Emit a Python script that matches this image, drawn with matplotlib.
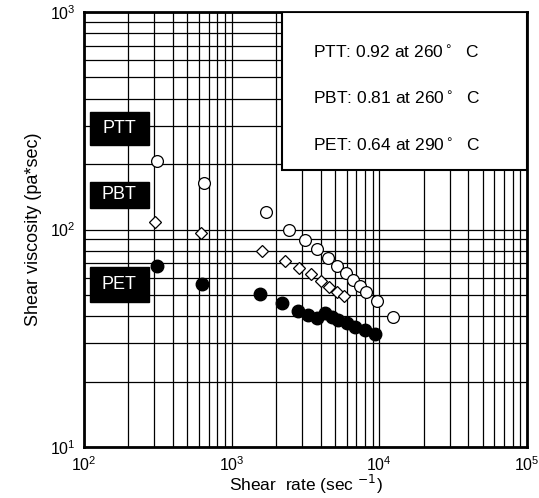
import numpy as np
import matplotlib
matplotlib.use("Agg")
import matplotlib.pyplot as plt
import matplotlib.transforms as mtransforms

# values (shear rate in 1/s, viscosity in Pa*s)
ptt_rate = [313, 649, 1708, 2443, 3135, 3763, 4508, 5188, 5913, 6658, 7390, 8115, 9590, 12420]
ptt_visc = [206, 164, 120, 99, 89.5, 81, 73.7, 68, 62.9, 58.6, 55, 51.8, 46.9, 39.5]

pbt_rate = [302, 617, 1604, 2296, 2869, 3427, 4005, 4579, 5188, 5786]
pbt_visc = [108.6, 96.7, 79.9, 71.9, 66.3, 62.2, 58.2, 54.6, 51.8, 49.5]

pet_rate = [313, 626, 1562, 2181, 2825, 3300, 3763, 4282, 4753, 5268, 6005, 6834, 7990, 9400]
pet_visc = [68, 56, 50.5, 45.8, 42.2, 40.4, 39.1, 41.2, 39.7, 38.4, 37.1, 35.7, 34.5, 33.0]

names = ["PTT", "PBT", "PET"]
iv_text = ["PTT: 0.92 at 260$^\\circ$  C",
           "PBT: 0.81 at 260$^\\circ$  C",
           "PET: 0.64 at 290$^\\circ$  C"]

plt.rcParams['font.family'] = ['Liberation Sans', 'DejaVu Sans']

fig = plt.figure(figsize=(5.39, 4.98), dpi=100)
ax = fig.add_axes([0.1558, 0.1024, 0.8219, 0.8735])
ax.set_xscale('log')
ax.set_yscale('log')
ax.set_xlim(1e2, 1e5)
ax.set_ylim(1e1, 1e3)

ax.grid(True, which='both', color='black', lw=0.9)
ax.set_axisbelow(True)
ax.tick_params(which='both', length=0, labelsize=11.5, pad=6)
for s in ax.spines.values():
    s.set_linewidth(2)

ax.plot(ptt_rate, ptt_visc, 'o', ms=8.5, mfc='white', mec='black', mew=0.9, zorder=4)
ax.plot(pbt_rate, pbt_visc, 'D', ms=6.5, mfc='white', mec='black', mew=0.9, zorder=4)
ax.plot(pet_rate, pet_visc, 'o', ms=9, mfc='black', mec='black', zorder=4)

# black name tags on the left (x in axes fraction, y in data units)
trans = mtransforms.blended_transform_factory(ax.transAxes, ax.transData)
tag_spans = [(245, 347), (125.6, 165.4), (46.4, 67.2)]
for n, (lo, hi) in zip(names, tag_spans):
    ax.add_patch(plt.Rectangle((0.0135, lo), 0.133, hi - lo, transform=trans,
                               fc='black', ec='black', zorder=5))
    ax.text(0.08, np.sqrt(lo * hi), n, transform=trans, ha='center', va='center',
            color='white', fontsize=13, zorder=6)

# info box in the upper right
ax.add_patch(plt.Rectangle((0.447, 0.637), 0.553, 0.363, transform=ax.transAxes,
                           fc='white', ec='black', lw=1.5, zorder=3))
for i, t in enumerate(iv_text):
    ax.text(0.517, 0.908 - i * 0.107, t, transform=ax.transAxes, ha='left', va='center',
            fontsize=12.5, zorder=5)

ax.set_xlabel('Shear  rate (sec $^{-1}$)', fontsize=12.5, labelpad=-1)
ax.set_ylabel('Shear viscosity (pa*sec)', fontsize=13, labelpad=6)

plt.savefig("out.png", dpi=100)
